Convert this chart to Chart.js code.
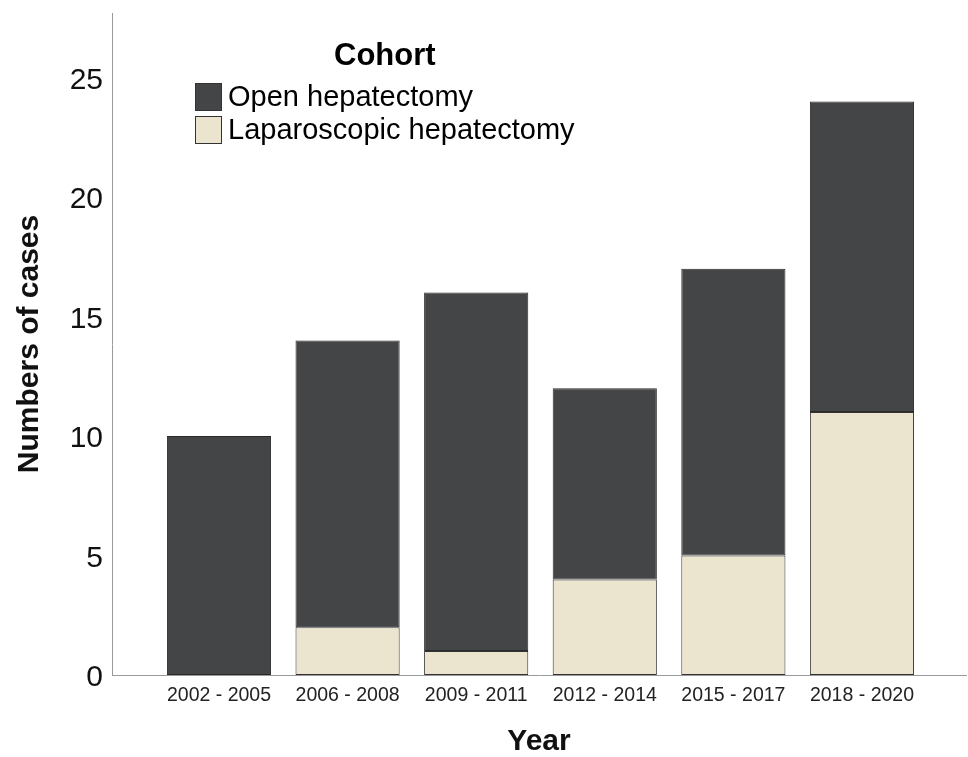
<!DOCTYPE html>
<html>
<head>
<meta charset="utf-8">
<script src="https://cdn.jsdelivr.net/npm/chart.js@4.4.0/dist/chart.umd.min.js"></script>
<style>
   body { margin: 0; background: #fff; }
   #wrap { position: relative; width: 968px; height: 757px; }
   #legend {
      position: absolute; left: 195px; top: 39px;
      font-family: "Liberation Sans", Arial, sans-serif; color: #000;
   }
   #legend .title { font-weight: bold; font-size: 31px; line-height: 31px; text-align: center; margin-bottom: 10px; }
   #legend .item { display: flex; align-items: center; height: 33px; font-size: 29px; }
   #legend .box { width: 25px; height: 26px; border: 1px solid #333; margin-right: 6px; }
</style>
</head>
<body>
<div id="wrap">
   <canvas id="myChart" width="968" height="757"></canvas>
   <div id="legend"></div>
</div>
<script>
//categories and values
var periods = ['2002 - 2005', '2006 - 2008', '2009 - 2011', '2012 - 2014', '2015 - 2017', '2018 - 2020'];
var lapCases = [0, 2, 1, 4, 5, 11];
var openCases = [10, 12, 15, 8, 12, 13];
var yTicks = [0, 5, 10, 15, 20, 25];

var darkColor = '#444547';
var beigeColor = '#ebe5cf';
var FONT = '"Liberation Sans", Arial, sans-serif';

//turn an array of values into points on the linear x axis
function toPoints(values){
   var points = [];
   for (var i = 0; i < values.length; i++) {
      points.push({x: i, y: values[i]});
   }
   return points;
}

var ctx = document.getElementById('myChart').getContext('2d');
var chart = new Chart(ctx, {
   type: 'bar',
   data: {
      datasets: [{
         label: 'Laparoscopic hepatectomy',
         data: toPoints(lapCases),
         backgroundColor: beigeColor,
         borderColor: '#333',
         borderWidth: 1,
         borderSkipped: false
      }, {
         label: 'Open hepatectomy',
         data: toPoints(openCases),
         backgroundColor: darkColor,
         borderColor: '#2a2a2a',
         borderWidth: 1,
         borderSkipped: false
      }]
   },
   options: {
      responsive: false,
      animation: false,
      devicePixelRatio: 1,
      layout: { padding: { top: 13, right: 2, left: 0, bottom: 0 } },
      datasets: { bar: { barPercentage: 1, categoryPercentage: 0.81 } },
      plugins: { legend: { display: false }, tooltip: { enabled: false } },
      scales: {
         x: {
            type: 'linear',
            stacked: true,
            offset: false,
            min: -0.832,
            max: 5.809,
            grid: { display: false, drawTicks: false, offset: false },
            border: { display: true, color: '#9a9a9a', width: 1 },
            afterBuildTicks: function(scale){
               scale.ticks = periods.map(function(p, i){ return {value: i}; });
            },
            afterFit: function(scale){
               scale.height = 82;
               scale.paddingLeft = 0;
               scale.paddingRight = 0;
            },
            ticks: {
               padding: 9,
               autoSkip: false,
               maxRotation: 0,
               color: '#222',
               font: { family: FONT, size: 19.5 },
               callback: function(value){ return periods[value]; }
            },
            title: {
               display: true,
               text: 'Year',
               color: '#111',
               padding: { top: 0, bottom: 0 },
               font: { family: FONT, size: 30, weight: 'bold', lineHeight: 1 }
            }
         },
         y: {
            stacked: true,
            min: 0,
            max: 27.7,
            grid: { display: false, drawTicks: false },
            border: { display: true, color: '#9a9a9a', width: 1 },
            afterBuildTicks: function(scale){
               scale.ticks = yTicks.map(function(v){ return {value: v}; });
            },
            afterFit: function(scale){
               scale.width = 112;
               scale.paddingTop = 0;
               scale.paddingBottom = 0;
            },
            ticks: {
               padding: 9,
               labelOffset: 3,
               color: '#111',
               font: { family: FONT, size: 30 }
            },
            title: {
               display: true,
               text: 'Numbers of cases',
               color: '#111',
               padding: { top: 12, bottom: 0 },
               font: { family: FONT, size: 30, weight: 'bold', lineHeight: 1.2 }
            }
         }
      }
   }
});

//html legend built from the chart datasets (open first, like the original)
function buildLegend(chart){
   var box = document.getElementById('legend');
   var html = '<div class="title">Cohort</div>';
   var sets = chart.data.datasets.slice().reverse();
   for (var i = 0; i < sets.length; i++) {
      html += '<div class="item"><span class="box" style="background:' + sets[i].backgroundColor + '"></span>' + sets[i].label + '</div>';
   }
   box.innerHTML = html;
}
buildLegend(chart);
</script>
</body>
</html>
